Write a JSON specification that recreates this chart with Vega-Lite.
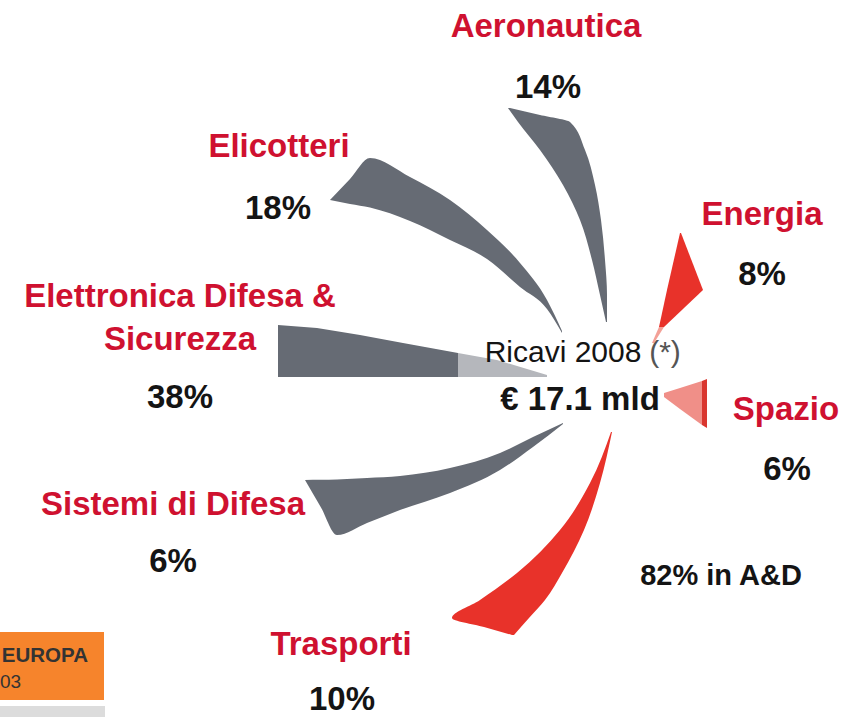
{
  "$schema": "https://vega.github.io/schema/vega-lite/v6.json",
  "width": 843,
  "height": 717,
  "padding": 0,
  "autosize": {"type": "none"},
  "background": "white",
  "config": {"view": {"stroke": null}, "font": "Liberation Sans"},
  "datasets": {
    "sagome": [
      {"lama": "Elicotteri", "parte": "grigio", "verso": "x", "asse": 330, "b1": 200, "b2": 200},
      {"lama": "Elicotteri", "parte": "grigio", "verso": "x", "asse": 350, "b1": 179, "b2": 204},
      {"lama": "Elicotteri", "parte": "grigio", "verso": "x", "asse": 370, "b1": 158, "b2": 207.5},
      {"lama": "Elicotteri", "parte": "grigio", "verso": "x", "asse": 410, "b1": 177, "b2": 221},
      {"lama": "Elicotteri", "parte": "grigio", "verso": "x", "asse": 450, "b1": 200, "b2": 240},
      {"lama": "Elicotteri", "parte": "grigio", "verso": "x", "asse": 487, "b1": 230, "b2": 259},
      {"lama": "Elicotteri", "parte": "grigio", "verso": "x", "asse": 520, "b1": 263, "b2": 287},
      {"lama": "Elicotteri", "parte": "grigio", "verso": "x", "asse": 547, "b1": 300, "b2": 309},
      {"lama": "Elicotteri", "parte": "grigio", "verso": "x", "asse": 562, "b1": 331, "b2": 333},

      {"lama": "Elettronica Difesa & Sicurezza", "parte": "grigio", "verso": "x", "asse": 278, "b1": 325, "b2": 377},
      {"lama": "Elettronica Difesa & Sicurezza", "parte": "grigio", "verso": "x", "asse": 317, "b1": 328, "b2": 377},
      {"lama": "Elettronica Difesa & Sicurezza", "parte": "grigio", "verso": "x", "asse": 360, "b1": 335, "b2": 377},
      {"lama": "Elettronica Difesa & Sicurezza", "parte": "grigio", "verso": "x", "asse": 403, "b1": 343, "b2": 377},
      {"lama": "Elettronica Difesa & Sicurezza", "parte": "grigio", "verso": "x", "asse": 458, "b1": 353, "b2": 377},
      {"lama": "Elettronica Difesa & Sicurezza", "parte": "grigio chiaro", "verso": "x", "asse": 458, "b1": 353, "b2": 377},
      {"lama": "Elettronica Difesa & Sicurezza", "parte": "grigio chiaro", "verso": "x", "asse": 497, "b1": 360, "b2": 377},
      {"lama": "Elettronica Difesa & Sicurezza", "parte": "grigio chiaro", "verso": "x", "asse": 547, "b1": 375, "b2": 377},

      {"lama": "Sistemi di Difesa", "parte": "grigio", "verso": "x", "asse": 305, "b1": 480, "b2": 480},
      {"lama": "Sistemi di Difesa", "parte": "grigio", "verso": "x", "asse": 321, "b1": 479.8, "b2": 507.5},
      {"lama": "Sistemi di Difesa", "parte": "grigio", "verso": "x", "asse": 337, "b1": 479.5, "b2": 535},
      {"lama": "Sistemi di Difesa", "parte": "grigio", "verso": "x", "asse": 367, "b1": 478, "b2": 523},
      {"lama": "Sistemi di Difesa", "parte": "grigio", "verso": "x", "asse": 400, "b1": 476, "b2": 510},
      {"lama": "Sistemi di Difesa", "parte": "grigio", "verso": "x", "asse": 450, "b1": 468, "b2": 493},
      {"lama": "Sistemi di Difesa", "parte": "grigio", "verso": "x", "asse": 500, "b1": 453, "b2": 470},
      {"lama": "Sistemi di Difesa", "parte": "grigio", "verso": "x", "asse": 533, "b1": 437, "b2": 447},
      {"lama": "Sistemi di Difesa", "parte": "grigio", "verso": "x", "asse": 563, "b1": 423, "b2": 424},

      {"lama": "Spazio", "parte": "rosa", "verso": "x", "asse": 664, "b1": 393, "b2": 397},
      {"lama": "Spazio", "parte": "rosa", "verso": "x", "asse": 680, "b1": 388, "b2": 409},
      {"lama": "Spazio", "parte": "rosa", "verso": "x", "asse": 702, "b1": 381, "b2": 425},
      {"lama": "Spazio", "parte": "bordo", "verso": "x", "asse": 702, "b1": 381, "b2": 425},
      {"lama": "Spazio", "parte": "bordo", "verso": "x", "asse": 707, "b1": 379, "b2": 428},

      {"lama": "Aeronautica", "parte": "grigio", "verso": "y", "asse": 108, "b1": 508, "b2": 510},
      {"lama": "Aeronautica", "parte": "grigio", "verso": "y", "asse": 115, "b1": 513, "b2": 540},
      {"lama": "Aeronautica", "parte": "grigio", "verso": "y", "asse": 122, "b1": 518, "b2": 570},
      {"lama": "Aeronautica", "parte": "grigio", "verso": "y", "asse": 150, "b1": 540, "b2": 585},
      {"lama": "Aeronautica", "parte": "grigio", "verso": "y", "asse": 185, "b1": 563, "b2": 595},
      {"lama": "Aeronautica", "parte": "grigio", "verso": "y", "asse": 220, "b1": 580, "b2": 601},
      {"lama": "Aeronautica", "parte": "grigio", "verso": "y", "asse": 260, "b1": 592, "b2": 605},
      {"lama": "Aeronautica", "parte": "grigio", "verso": "y", "asse": 295, "b1": 600, "b2": 607},
      {"lama": "Aeronautica", "parte": "grigio", "verso": "y", "asse": 322, "b1": 606, "b2": 607},

      {"lama": "Energia", "parte": "rosso", "verso": "y", "asse": 233, "b1": 680, "b2": 681},
      {"lama": "Energia", "parte": "rosso", "verso": "y", "asse": 290, "b1": 667, "b2": 703},
      {"lama": "Energia", "parte": "rosso", "verso": "y", "asse": 327, "b1": 659, "b2": 664},
      {"lama": "Energia", "parte": "rosso chiaro", "verso": "y", "asse": 327, "b1": 659, "b2": 664},
      {"lama": "Energia", "parte": "rosso chiaro", "verso": "y", "asse": 343, "b1": 652, "b2": 654},

      {"lama": "Trasporti", "parte": "rosso", "verso": "y", "asse": 432, "b1": 611, "b2": 612},
      {"lama": "Trasporti", "parte": "rosso", "verso": "y", "asse": 483, "b1": 590, "b2": 600},
      {"lama": "Trasporti", "parte": "rosso", "verso": "y", "asse": 530, "b1": 560, "b2": 584},
      {"lama": "Trasporti", "parte": "rosso", "verso": "y", "asse": 573, "b1": 517, "b2": 562},
      {"lama": "Trasporti", "parte": "rosso", "verso": "y", "asse": 600, "b1": 480, "b2": 545},
      {"lama": "Trasporti", "parte": "rosso", "verso": "y", "asse": 618, "b1": 452, "b2": 529},
      {"lama": "Trasporti", "parte": "rosso", "verso": "y", "asse": 627, "b1": 484, "b2": 521},
      {"lama": "Trasporti", "parte": "rosso", "verso": "y", "asse": 635, "b1": 512, "b2": 514}
    ],
    "riquadri": [
      {"elemento": "EUROPA", "x0": 0, "x1": 104, "y0": 632, "y1": 700},
      {"elemento": "fascia", "x0": 0, "x1": 105, "y0": 706, "y1": 717}
    ],
    "testi": [
      {"gruppo": "nome", "testo": "Aeronautica", "x": 546, "y": 37},
      {"gruppo": "nome", "testo": "Elicotteri", "x": 279, "y": 157},
      {"gruppo": "nome", "testo": "Energia", "x": 762, "y": 225},
      {"gruppo": "nome", "testo": "Elettronica Difesa &", "x": 180, "y": 307},
      {"gruppo": "nome", "testo": "Sicurezza", "x": 180, "y": 350},
      {"gruppo": "nome", "testo": "Spazio", "x": 786, "y": 420},
      {"gruppo": "nome", "testo": "Sistemi di Difesa", "x": 173, "y": 515},
      {"gruppo": "nome", "testo": "Trasporti", "x": 341, "y": 655},
      {"gruppo": "quota", "testo": "14%", "x": 548, "y": 98},
      {"gruppo": "quota", "testo": "18%", "x": 278, "y": 219},
      {"gruppo": "quota", "testo": "8%", "x": 762, "y": 285},
      {"gruppo": "quota", "testo": "38%", "x": 180, "y": 408},
      {"gruppo": "quota", "testo": "6%", "x": 787, "y": 480},
      {"gruppo": "quota", "testo": "6%", "x": 173, "y": 572},
      {"gruppo": "quota", "testo": "10%", "x": 342, "y": 710},
      {"gruppo": "nota", "testo": "82% in A&D", "x": 721, "y": 585},
      {"gruppo": "centro", "testo": "Ricavi 2008", "x": 563, "y": 362},
      {"gruppo": "asterisco", "testo": "(*)", "x": 665, "y": 362},
      {"gruppo": "totale", "testo": "€ 17.1 mld", "x": 580, "y": 410},
      {"gruppo": "box", "testo": "EUROPA", "x": 88, "y": 662},
      {"gruppo": "boxsub", "testo": "03", "x": 0, "y": 688}
    ]
  },
  "resolve": {"scale": {"color": "independent"}},
  "layer": [
    {
      "data": {"name": "sagome"},
      "transform": [{"filter": "datum.verso === 'x' && (datum.lama === 'Elicotteri' || datum.lama === 'Sistemi di Difesa')"}],
      "mark": {"type": "area", "orient": "vertical", "interpolate": "monotone"},
      "encoding": {
        "x": {"field": "asse", "type": "quantitative", "scale": {"domain": [0, 843], "nice": false, "zero": false}, "axis": null},
        "y": {"field": "b1", "type": "quantitative", "stack": null, "scale": {"domain": [0, 717], "nice": false, "zero": false, "reverse": true}, "axis": null},
        "y2": {"field": "b2"},
        "detail": {"field": "lama"},
        "color": {
          "field": "parte", "type": "nominal", "legend": null,
          "scale": {
            "domain": ["grigio", "grigio chiaro", "rosso", "rosso chiaro", "rosa", "bordo"],
            "range": ["#666b74", "#b5b7bc", "#e8322a", "#f3a097", "#f08f88", "#d9362f"]
          }
        }
      }
    },
    {
      "data": {"name": "sagome"},
      "transform": [{"filter": "datum.verso === 'x' && datum.lama !== 'Elicotteri' && datum.lama !== 'Sistemi di Difesa'"}],
      "mark": {"type": "area", "orient": "vertical", "interpolate": "linear"},
      "encoding": {
        "x": {"field": "asse", "type": "quantitative"},
        "y": {"field": "b1", "type": "quantitative", "stack": null},
        "y2": {"field": "b2"},
        "detail": {"field": "lama"},
        "color": {
          "field": "parte", "type": "nominal", "legend": null,
          "scale": {
            "domain": ["grigio", "grigio chiaro", "rosso", "rosso chiaro", "rosa", "bordo"],
            "range": ["#666b74", "#b5b7bc", "#e8322a", "#f3a097", "#f08f88", "#d9362f"]
          }
        }
      }
    },
    {
      "data": {"name": "sagome"},
      "transform": [{"filter": "datum.verso === 'y' && datum.lama !== 'Energia'"}],
      "mark": {"type": "area", "orient": "horizontal", "interpolate": "monotone"},
      "encoding": {
        "y": {"field": "asse", "type": "quantitative"},
        "x": {"field": "b1", "type": "quantitative", "stack": null},
        "x2": {"field": "b2"},
        "detail": {"field": "lama"},
        "color": {
          "field": "parte", "type": "nominal", "legend": null,
          "scale": {
            "domain": ["grigio", "grigio chiaro", "rosso", "rosso chiaro", "rosa", "bordo"],
            "range": ["#666b74", "#b5b7bc", "#e8322a", "#f3a097", "#f08f88", "#d9362f"]
          }
        }
      }
    },
    {
      "data": {"name": "sagome"},
      "transform": [{"filter": "datum.verso === 'y' && datum.lama === 'Energia'"}],
      "mark": {"type": "area", "orient": "horizontal", "interpolate": "linear"},
      "encoding": {
        "y": {"field": "asse", "type": "quantitative"},
        "x": {"field": "b1", "type": "quantitative", "stack": null},
        "x2": {"field": "b2"},
        "detail": {"field": "lama"},
        "color": {
          "field": "parte", "type": "nominal", "legend": null,
          "scale": {
            "domain": ["grigio", "grigio chiaro", "rosso", "rosso chiaro", "rosa", "bordo"],
            "range": ["#666b74", "#b5b7bc", "#e8322a", "#f3a097", "#f08f88", "#d9362f"]
          }
        }
      }
    },
    {
      "data": {"name": "riquadri"},
      "mark": {"type": "rect"},
      "encoding": {
        "x": {"field": "x0", "type": "quantitative"},
        "x2": {"field": "x1"},
        "y": {"field": "y0", "type": "quantitative"},
        "y2": {"field": "y1"},
        "color": {
          "field": "elemento", "type": "nominal", "legend": null,
          "scale": {"domain": ["EUROPA", "fascia"], "range": ["#f6842c", "#dcdcdc"]}
        }
      }
    },
    {
      "data": {"name": "testi"},
      "transform": [{"filter": "datum.gruppo === 'nome'"}],
      "mark": {"type": "text", "align": "center", "baseline": "alphabetic", "fontSize": 33, "fontWeight": "bold", "font": "Liberation Sans", "color": "#cf1130"},
      "encoding": {
        "x": {"field": "x", "type": "quantitative"},
        "y": {"field": "y", "type": "quantitative"},
        "text": {"field": "testo"}
      }
    },
    {
      "data": {"name": "testi"},
      "transform": [{"filter": "datum.gruppo === 'quota'"}],
      "mark": {"type": "text", "align": "center", "baseline": "alphabetic", "fontSize": 33, "fontWeight": "bold", "font": "Liberation Sans", "color": "#141414"},
      "encoding": {
        "x": {"field": "x", "type": "quantitative"},
        "y": {"field": "y", "type": "quantitative"},
        "text": {"field": "testo"}
      }
    },
    {
      "data": {"name": "testi"},
      "transform": [{"filter": "datum.gruppo === 'nota'"}],
      "mark": {"type": "text", "align": "center", "baseline": "alphabetic", "fontSize": 29, "fontWeight": "bold", "font": "Liberation Sans", "color": "#141414"},
      "encoding": {
        "x": {"field": "x", "type": "quantitative"},
        "y": {"field": "y", "type": "quantitative"},
        "text": {"field": "testo"}
      }
    },
    {
      "data": {"name": "testi"},
      "transform": [{"filter": "datum.gruppo === 'centro'"}],
      "mark": {"type": "text", "align": "center", "baseline": "alphabetic", "fontSize": 30, "font": "Liberation Sans", "color": "#141414"},
      "encoding": {
        "x": {"field": "x", "type": "quantitative"},
        "y": {"field": "y", "type": "quantitative"},
        "text": {"field": "testo"}
      }
    },
    {
      "data": {"name": "testi"},
      "transform": [{"filter": "datum.gruppo === 'asterisco'"}],
      "mark": {"type": "text", "align": "center", "baseline": "alphabetic", "fontSize": 30, "font": "Liberation Sans", "color": "#555555"},
      "encoding": {
        "x": {"field": "x", "type": "quantitative"},
        "y": {"field": "y", "type": "quantitative"},
        "text": {"field": "testo"}
      }
    },
    {
      "data": {"name": "testi"},
      "transform": [{"filter": "datum.gruppo === 'totale'"}],
      "mark": {"type": "text", "align": "center", "baseline": "alphabetic", "fontSize": 33, "fontWeight": "bold", "font": "Liberation Sans", "color": "#141414"},
      "encoding": {
        "x": {"field": "x", "type": "quantitative"},
        "y": {"field": "y", "type": "quantitative"},
        "text": {"field": "testo"}
      }
    },
    {
      "data": {"name": "testi"},
      "transform": [{"filter": "datum.gruppo === 'box'"}],
      "mark": {"type": "text", "align": "right", "baseline": "alphabetic", "fontSize": 20.5, "fontWeight": "bold", "font": "Liberation Sans", "color": "#333333"},
      "encoding": {
        "x": {"field": "x", "type": "quantitative"},
        "y": {"field": "y", "type": "quantitative"},
        "text": {"field": "testo"}
      }
    },
    {
      "data": {"name": "testi"},
      "transform": [{"filter": "datum.gruppo === 'boxsub'"}],
      "mark": {"type": "text", "align": "left", "baseline": "alphabetic", "fontSize": 19, "font": "Liberation Sans", "color": "#333333"},
      "encoding": {
        "x": {"field": "x", "type": "quantitative"},
        "y": {"field": "y", "type": "quantitative"},
        "text": {"field": "testo"}
      }
    }
  ]
}
